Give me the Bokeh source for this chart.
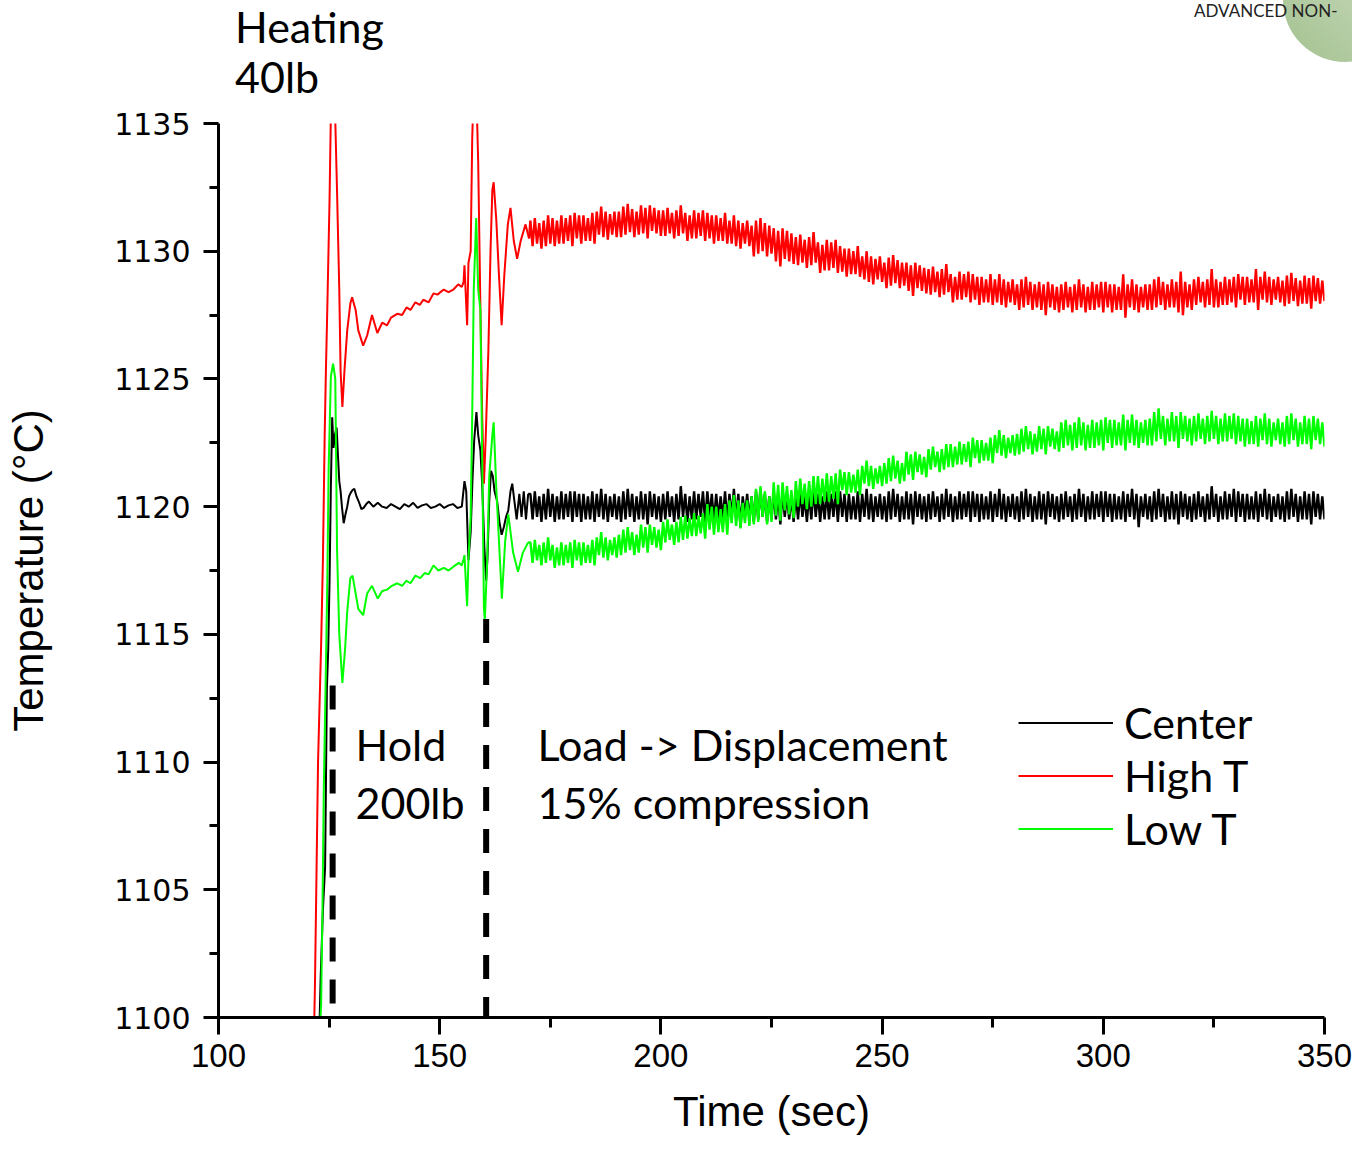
import numpy as np
from bokeh.plotting import figure
from bokeh.layouts import column
from bokeh.models import (Range1d, FixedTicker, Label, Legend, LegendItem,
                          Arrow, Div)
from bokeh.embed import file_html
from bokeh.resources import INLINE

# ---------------- data ----------------
x_ticks = [100, 150, 200, 250, 300, 350]
x_minor = [125, 175, 225, 275, 325]
y_ticks = [1100, 1105, 1110, 1115, 1120, 1125, 1130, 1135]
y_minor = [1102.5, 1107.5, 1112.5, 1117.5, 1122.5, 1127.5, 1132.5]

center_early = [
    (122.8, 1099.5), (123.1, 1101.6), (123.6, 1104.2), (124.1, 1105.9), (124.5, 1112.9),
    (124.8, 1114.4), (125.1, 1117.1), (125.4, 1120.8), (125.7, 1123.5), (126.0, 1122.3),
    (126.3, 1122.8), (126.7, 1123.1), (127.0, 1122.0), (127.3, 1121.0), (127.6, 1120.6),
    (127.9, 1120.0), (128.3, 1119.35), (128.7, 1119.7), (129.1, 1120.0), (129.5, 1120.4),
    (129.9, 1120.55), (130.3, 1120.65), (130.7, 1120.7), (131.2, 1120.4), (131.7, 1120.2),
    (132.3, 1119.9), (132.8, 1119.95), (133.4, 1120.1), (134, 1120.2), (135, 1120.0),
    (136, 1120.15), (137, 1120.0), (138, 1119.95), (139, 1120.1), (140, 1120.0),
    (141, 1119.9), (142, 1120.1), (143, 1120.0), (144, 1120.15), (145, 1119.95),
    (146, 1120.05), (147, 1120.1), (148, 1119.95), (149, 1120.0), (150, 1120.1),
    (151, 1119.95), (152, 1120.05), (153, 1120.1), (154, 1119.95), (155, 1120.0),
    (155.6, 1121.0), (156.0, 1120.6), (156.5, 1117.9), (157.0, 1119.0), (157.4, 1121.0),
    (157.8, 1122.6), (158.3, 1123.7), (158.7, 1122.8), (159.2, 1122.2), (159.6, 1120.9),
    (160.1, 1118.4), (160.5, 1117.1), (160.8, 1118.0), (161.2, 1120.2), (161.6, 1121.4),
    (162.0, 1121.2), (162.4, 1120.6), (163.0, 1120.2), (163.5, 1119.4), (164.0, 1118.9),
    (164.5, 1119.2), (165.0, 1119.6), (165.5, 1119.85), (166.0, 1120.6), (166.4, 1120.9),
    (166.9, 1120.2), (167.4, 1119.5), (168.0, 1120.5), (168.5, 1119.6), (169.0, 1120.6),
    (169.5, 1119.5), (170.0, 1120.5),
]

high_early = [
    (121.6, 1099.5), (121.8, 1101.25), (122.15, 1105.6), (122.5, 1110.0), (123.2, 1114.6),
    (123.6, 1117.9), (124.0, 1122.8), (124.3, 1125.5), (124.6, 1127.8), (125.1, 1132.0),
    (125.5, 1136.5), (126.2, 1136.5), (126.8, 1132.3), (127.3, 1128.5), (127.6, 1125.3),
    (128.0, 1123.9), (128.5, 1125.4), (129.1, 1126.9), (129.8, 1127.95), (130.2, 1128.2),
    (131.0, 1127.7), (131.6, 1126.9), (132.7, 1126.3), (133.6, 1126.7), (134.7, 1127.5),
    (135.9, 1126.8), (137.0, 1127.2), (138.1, 1127.1), (139.0, 1127.4), (140.4, 1127.55),
    (141.5, 1127.5), (142.5, 1127.8), (143.4, 1127.7), (144.5, 1128.0), (145.5, 1127.9),
    (146.3, 1128.1), (147.5, 1128.0), (148.6, 1128.35), (149.5, 1128.3), (150.9, 1128.5),
    (152.0, 1128.4), (153.1, 1128.5), (154.2, 1128.7), (155.0, 1128.6), (155.4, 1128.8),
    (155.6, 1129.45), (156.2, 1127.1), (156.5, 1129.55), (157.0, 1130.0), (157.35, 1134.4),
    (157.7, 1136.5), (158.25, 1136.5), (158.7, 1133.5), (159.2, 1127.8), (159.6, 1123.6),
    (160.0, 1120.9), (160.4, 1122.7), (161.0, 1126.1), (161.5, 1130.1), (161.9, 1132.4),
    (162.2, 1132.7), (162.8, 1131.2), (163.4, 1129.05), (164.0, 1127.1), (164.6, 1129.05),
    (165.4, 1131.05), (166.0, 1131.7), (166.75, 1130.4), (167.5, 1129.7), (168.3, 1130.4),
    (169.4, 1131.05), (170.2, 1130.5),
]

low_early = [
    (122.9, 1099.5), (123.2, 1100.5), (123.5, 1104.2), (123.8, 1108.9), (124.2, 1112.9),
    (124.6, 1117.1), (124.9, 1121.5), (125.4, 1125.1), (125.9, 1125.6), (126.4, 1125.0),
    (126.8, 1118.3), (127.3, 1115.0), (128.0, 1113.1), (128.6, 1114.4), (129.1, 1115.9),
    (129.8, 1117.2), (130.3, 1117.3), (131.0, 1116.6), (131.6, 1116.0), (132.7, 1115.75),
    (133.6, 1116.6), (134.7, 1116.9), (136.0, 1116.4), (137.0, 1116.7), (138.1, 1116.75),
    (139.2, 1116.9), (140.4, 1117.0), (141.5, 1116.9), (142.5, 1117.1), (143.4, 1117.0),
    (144.5, 1117.3), (145.6, 1117.2), (146.6, 1117.4), (147.5, 1117.35), (148.6, 1117.7),
    (149.7, 1117.5), (150.9, 1117.6), (152.0, 1117.5), (153.1, 1117.65), (154.3, 1117.8),
    (155.0, 1117.7), (155.4, 1117.95), (155.6, 1118.1), (156.2, 1116.1), (156.5, 1117.95),
    (157.0, 1119.6), (157.35, 1123.6), (157.7, 1128.5), (158.25, 1131.3), (158.7, 1128.5),
    (159.2, 1127.7), (159.6, 1122.0), (160.0, 1116.0), (160.2, 1115.55), (160.75, 1117.95),
    (161.2, 1121.2), (161.9, 1122.8), (162.2, 1123.3), (162.8, 1120.7), (163.4, 1118.65),
    (164.05, 1116.4), (164.8, 1118.65), (165.5, 1119.7), (166.6, 1118.2), (167.7, 1117.45),
    (168.8, 1118.2), (170.0, 1118.6),
]

# two samples per second from 170.5 s to 350 s (360 samples, 20 per row = 10 s)
t_late = np.arange(170.5, 350.01, 0.5).tolist()

center_late = [
    1120.5, 1119.5, 1120.6, 1119.6, 1120.4, 1119.4, 1120.5, 1119.5, 1120.7, 1119.6, 1120.5, 1119.4, 1120.4, 1119.5, 1120.6, 1119.5, 1120.5, 1119.6, 1120.6, 1119.4,
    1120.6, 1119.6, 1120.5, 1119.4, 1120.5, 1119.5, 1120.4, 1119.5, 1120.6, 1119.4, 1120.5, 1119.6, 1120.7, 1119.5, 1120.5, 1119.4, 1120.4, 1119.6, 1120.5, 1119.5,
    1120.4, 1119.4, 1120.6, 1119.5, 1120.7, 1119.6, 1120.5, 1119.4, 1120.4, 1119.5, 1120.6, 1119.5, 1120.5, 1119.3, 1120.6, 1119.6, 1120.5, 1119.5, 1120.4, 1119.4,
    1120.5, 1119.5, 1120.6, 1119.6, 1120.4, 1119.4, 1120.5, 1119.5, 1120.8, 1119.6, 1120.5, 1119.4, 1120.4, 1119.5, 1120.6, 1119.5, 1120.5, 1119.6, 1120.6, 1119.4,
    1120.6, 1119.6, 1120.5, 1119.4, 1120.5, 1119.5, 1120.4, 1119.5, 1120.6, 1119.4, 1120.5, 1119.6, 1120.7, 1119.5, 1120.5, 1119.2, 1120.4, 1119.6, 1120.5, 1119.5,
    1120.4, 1119.4, 1120.6, 1119.5, 1120.7, 1119.6, 1120.5, 1119.4, 1120.4, 1119.5, 1120.6, 1119.5, 1120.5, 1119.3, 1120.6, 1119.6, 1120.5, 1119.5, 1120.4, 1119.4,
    1120.5, 1119.5, 1120.6, 1119.6, 1120.4, 1119.4, 1120.5, 1119.5, 1120.7, 1119.6, 1120.5, 1119.4, 1120.4, 1119.5, 1120.6, 1119.5, 1120.5, 1119.6, 1120.6, 1119.4,
    1120.6, 1119.6, 1120.5, 1119.4, 1120.5, 1119.5, 1120.4, 1119.5, 1120.6, 1119.4, 1120.5, 1119.6, 1120.7, 1119.5, 1120.5, 1119.4, 1120.4, 1119.6, 1120.5, 1119.5,
    1120.4, 1119.4, 1120.6, 1119.5, 1120.7, 1119.6, 1120.5, 1119.4, 1120.4, 1119.5, 1120.6, 1119.5, 1120.5, 1119.3, 1120.6, 1119.6, 1120.5, 1119.5, 1120.4, 1119.4,
    1120.5, 1119.5, 1120.6, 1119.6, 1120.4, 1119.4, 1120.5, 1119.5, 1120.7, 1119.6, 1120.5, 1119.4, 1120.4, 1119.5, 1120.6, 1119.5, 1120.5, 1119.6, 1120.6, 1119.4,
    1120.6, 1119.6, 1120.5, 1119.4, 1120.5, 1119.5, 1120.4, 1119.5, 1120.6, 1119.4, 1120.5, 1119.6, 1120.7, 1119.5, 1120.5, 1119.4, 1120.4, 1119.6, 1120.5, 1119.5,
    1120.4, 1119.4, 1120.6, 1119.5, 1120.7, 1119.6, 1120.5, 1119.4, 1120.4, 1119.5, 1120.6, 1119.5, 1120.5, 1119.3, 1120.6, 1119.6, 1120.5, 1119.5, 1120.4, 1119.4,
    1120.5, 1119.5, 1120.6, 1119.6, 1120.4, 1119.4, 1120.5, 1119.5, 1120.7, 1119.6, 1120.5, 1119.4, 1120.4, 1119.5, 1120.6, 1119.5, 1120.5, 1119.6, 1120.6, 1119.4,
    1120.6, 1119.6, 1120.5, 1119.4, 1120.5, 1119.5, 1120.4, 1119.5, 1120.6, 1119.4, 1120.5, 1119.6, 1120.7, 1119.5, 1120.5, 1119.2, 1120.4, 1119.6, 1120.5, 1119.5,
    1120.4, 1119.4, 1120.6, 1119.5, 1120.7, 1119.6, 1120.5, 1119.4, 1120.4, 1119.5, 1120.6, 1119.5, 1120.5, 1119.3, 1120.6, 1119.6, 1120.5, 1119.5, 1120.4, 1119.4,
    1120.5, 1119.5, 1120.6, 1119.6, 1120.4, 1119.4, 1120.5, 1119.5, 1120.8, 1119.6, 1120.5, 1119.4, 1120.4, 1119.5, 1120.6, 1119.5, 1120.5, 1119.6, 1120.7, 1119.4,
    1120.6, 1119.6, 1120.5, 1119.4, 1120.5, 1119.5, 1120.4, 1119.5, 1120.6, 1119.4, 1120.5, 1119.6, 1120.7, 1119.5, 1120.5, 1119.4, 1120.4, 1119.6, 1120.5, 1119.5,
    1120.4, 1119.4, 1120.6, 1119.5, 1120.7, 1119.6, 1120.5, 1119.4, 1120.4, 1119.5, 1120.6, 1119.5, 1120.5, 1119.3, 1120.6, 1119.6, 1120.5, 1119.5, 1120.4, 1119.5,
]

high_late = [
    1131.2, 1130.2, 1131.3, 1130.3, 1131.1, 1130.1, 1131.2, 1130.2, 1131.4, 1130.3, 1131.3, 1130.2, 1131.2, 1130.3, 1131.4, 1130.3, 1131.3, 1130.4, 1131.4, 1130.2,
    1131.5, 1130.5, 1131.4, 1130.3, 1131.4, 1130.4, 1131.3, 1130.4, 1131.5, 1130.3, 1131.55, 1130.65, 1131.75, 1130.55, 1131.55, 1130.45, 1131.45, 1130.65, 1131.55, 1130.55,
    1131.55, 1130.55, 1131.75, 1130.65, 1131.85, 1130.75, 1131.65, 1130.55, 1131.55, 1130.65, 1131.8, 1130.7, 1131.7, 1130.5, 1131.8, 1130.8, 1131.7, 1130.7, 1131.6, 1130.6,
    1131.6, 1130.6, 1131.7, 1130.7, 1131.5, 1130.5, 1131.6, 1130.6, 1131.8, 1130.7, 1131.5, 1130.4, 1131.4, 1130.5, 1131.6, 1130.5, 1131.5, 1130.6, 1131.6, 1130.4,
    1131.5, 1130.5, 1131.4, 1130.3, 1131.4, 1130.4, 1131.3, 1130.4, 1131.5, 1130.3, 1131.2, 1130.3, 1131.4, 1130.2, 1131.2, 1130.1, 1131.1, 1130.3, 1131.2, 1130.2,
    1131.0, 1129.8, 1131.2, 1129.9, 1131.3, 1130.0, 1131.1, 1129.8, 1131.0, 1129.9, 1130.9, 1129.6, 1130.8, 1129.4, 1130.9, 1129.7, 1130.8, 1129.6, 1130.7, 1129.5,
    1130.55, 1129.45, 1130.65, 1129.55, 1130.45, 1129.35, 1130.55, 1129.45, 1130.75, 1129.55, 1130.35, 1129.15, 1130.25, 1129.25, 1130.45, 1129.25, 1130.35, 1129.35, 1130.45, 1129.15,
    1130.2, 1129.2, 1130.1, 1129.0, 1130.1, 1129.1, 1130.0, 1129.1, 1130.2, 1129.0, 1129.8, 1128.9, 1130.0, 1128.8, 1129.8, 1128.7, 1129.7, 1128.9, 1129.8, 1128.8,
    1129.55, 1128.55, 1129.75, 1128.65, 1129.85, 1128.75, 1129.65, 1128.55, 1129.55, 1128.65, 1129.55, 1128.45, 1129.45, 1128.25, 1129.55, 1128.55, 1129.45, 1128.45, 1129.35, 1128.35,
    1129.3, 1128.3, 1129.4, 1128.4, 1129.2, 1128.2, 1129.3, 1128.3, 1129.5, 1128.4, 1129.1, 1128.0, 1129.0, 1128.1, 1129.2, 1128.1, 1129.1, 1128.2, 1129.2, 1128.0,
    1129.1, 1128.1, 1129.0, 1127.9, 1129.0, 1128.0, 1128.9, 1128.0, 1129.1, 1127.9, 1128.9, 1128.0, 1129.1, 1127.9, 1128.9, 1127.8, 1128.8, 1128.0, 1128.9, 1127.9,
    1128.7, 1127.7, 1128.9, 1127.8, 1129.0, 1127.9, 1128.8, 1127.7, 1128.7, 1127.8, 1128.8, 1127.7, 1128.7, 1127.5, 1128.8, 1127.8, 1128.7, 1127.7, 1128.6, 1127.6,
    1128.7, 1127.7, 1128.8, 1127.8, 1128.6, 1127.6, 1128.7, 1127.7, 1128.9, 1127.8, 1128.7, 1127.6, 1128.6, 1127.7, 1128.8, 1127.7, 1128.7, 1127.8, 1128.8, 1127.6,
    1128.8, 1127.8, 1128.7, 1127.6, 1128.7, 1127.7, 1128.6, 1127.7, 1129.1, 1127.4, 1128.7, 1127.8, 1128.9, 1127.7, 1128.7, 1127.6, 1128.6, 1127.8, 1128.7, 1127.7,
    1128.7, 1127.7, 1128.9, 1127.8, 1129.0, 1127.9, 1128.8, 1127.7, 1128.7, 1127.8, 1128.9, 1127.8, 1128.8, 1127.6, 1129.2, 1127.5, 1128.8, 1127.8, 1128.7, 1127.7,
    1128.9, 1127.9, 1129.0, 1128.0, 1128.8, 1127.8, 1128.9, 1127.9, 1129.3, 1127.8, 1128.9, 1127.8, 1128.8, 1127.9, 1129.0, 1127.9, 1128.9, 1128.0, 1129.0, 1127.8,
    1129.1, 1128.1, 1129.0, 1127.9, 1129.0, 1128.0, 1128.9, 1128.0, 1129.3, 1127.7, 1129.0, 1128.1, 1129.2, 1128.0, 1129.0, 1127.9, 1128.9, 1128.1, 1129.0, 1128.0,
    1128.85, 1127.85, 1129.05, 1127.95, 1129.15, 1128.05, 1128.95, 1127.85, 1128.85, 1127.95, 1129.05, 1127.95, 1128.95, 1127.75, 1129.05, 1128.05, 1128.95, 1127.95, 1128.85, 1128.05,
]

low_late = [
    1118.6, 1117.8, 1118.7, 1117.9, 1118.5, 1117.7, 1118.6, 1117.8, 1118.8, 1117.9, 1118.5, 1117.6, 1118.4, 1117.7, 1118.6, 1117.7, 1118.5, 1117.8, 1118.6, 1117.6,
    1118.7, 1117.9, 1118.6, 1117.7, 1118.6, 1117.8, 1118.5, 1117.8, 1118.7, 1117.7, 1118.8, 1118.1, 1119.0, 1118.0, 1118.8, 1117.9, 1118.7, 1118.1, 1118.8, 1118.0,
    1118.9, 1118.1, 1119.1, 1118.2, 1119.2, 1118.3, 1119.0, 1118.1, 1118.9, 1118.2, 1119.3, 1118.4, 1119.2, 1118.2, 1119.3, 1118.5, 1119.2, 1118.4, 1119.1, 1118.3,
    1119.4, 1118.6, 1119.5, 1118.7, 1119.3, 1118.5, 1119.4, 1118.6, 1119.6, 1118.7, 1119.65, 1118.75, 1119.55, 1118.85, 1119.75, 1118.85, 1119.65, 1118.95, 1119.75, 1118.75,
    1120.1, 1119.1, 1120.0, 1118.9, 1120.0, 1119.0, 1119.9, 1119.0, 1120.1, 1118.9, 1120.25, 1119.35, 1120.45, 1119.25, 1120.25, 1119.15, 1120.15, 1119.35, 1120.25, 1119.25,
    1120.4, 1119.3, 1120.7, 1119.4, 1120.8, 1119.6, 1120.6, 1119.3, 1120.4, 1119.4, 1120.95, 1119.65, 1120.85, 1119.45, 1120.95, 1119.85, 1120.8, 1119.7, 1120.65, 1119.55,
    1121.0, 1120.0, 1121.1, 1120.1, 1120.9, 1119.9, 1121.0, 1120.0, 1121.2, 1120.1, 1121.2, 1120.1, 1121.1, 1120.2, 1121.3, 1120.2, 1121.2, 1120.3, 1121.3, 1120.1,
    1121.45, 1120.65, 1121.35, 1120.45, 1121.35, 1120.55, 1121.25, 1120.55, 1121.45, 1120.45, 1121.6, 1120.9, 1121.8, 1120.8, 1121.6, 1120.7, 1121.5, 1120.9, 1121.6, 1120.8,
    1121.7, 1120.9, 1121.9, 1121.0, 1122.0, 1121.1, 1121.8, 1120.9, 1121.7, 1121.0, 1122.15, 1121.25, 1122.05, 1121.05, 1122.15, 1121.35, 1122.05, 1121.25, 1121.95, 1121.15,
    1122.25, 1121.45, 1122.35, 1121.55, 1122.15, 1121.35, 1122.25, 1121.45, 1122.45, 1121.55, 1122.45, 1121.55, 1122.35, 1121.65, 1122.55, 1121.65, 1122.45, 1121.75, 1122.55, 1121.55,
    1122.7, 1121.9, 1122.6, 1121.7, 1122.6, 1121.8, 1122.5, 1121.8, 1122.7, 1121.7, 1122.8, 1122.1, 1123.0, 1122.0, 1122.8, 1121.9, 1122.7, 1122.1, 1122.8, 1122.0,
    1122.85, 1122.05, 1123.05, 1122.15, 1123.15, 1122.25, 1122.95, 1122.05, 1122.85, 1122.15, 1123.15, 1122.25, 1123.05, 1122.05, 1123.15, 1122.35, 1123.05, 1122.25, 1122.95, 1122.15,
    1123.3, 1122.3, 1123.4, 1122.4, 1123.2, 1122.2, 1123.3, 1122.3, 1123.5, 1122.4, 1123.3, 1122.2, 1123.2, 1122.3, 1123.4, 1122.3, 1123.3, 1122.4, 1123.4, 1122.2,
    1123.5, 1122.5, 1123.4, 1122.3, 1123.4, 1122.4, 1123.3, 1122.4, 1123.6, 1122.2, 1123.4, 1122.5, 1123.6, 1122.4, 1123.4, 1122.3, 1123.3, 1122.5, 1123.4, 1122.4,
    1123.45, 1122.4, 1123.7, 1122.55, 1123.85, 1122.65, 1123.55, 1122.4, 1123.45, 1122.55, 1123.7, 1122.55, 1123.55, 1122.3, 1123.7, 1122.65, 1123.55, 1122.55, 1123.45, 1122.4,
    1123.55, 1122.55, 1123.65, 1122.65, 1123.45, 1122.45, 1123.55, 1122.55, 1123.75, 1122.65, 1123.55, 1122.45, 1123.45, 1122.55, 1123.65, 1122.55, 1123.55, 1122.65, 1123.65, 1122.45,
    1123.55, 1122.55, 1123.45, 1122.35, 1123.45, 1122.45, 1123.35, 1122.45, 1123.55, 1122.35, 1123.45, 1122.6, 1123.65, 1122.45, 1123.45, 1122.35, 1123.3, 1122.6, 1123.45, 1122.45,
    1123.3, 1122.35, 1123.55, 1122.45, 1123.65, 1122.6, 1123.45, 1122.35, 1123.3, 1122.45, 1123.55, 1122.45, 1123.45, 1122.25, 1123.55, 1122.6, 1123.45, 1122.45, 1123.3, 1122.35,
]

# phase boundaries (dashed lines): time, top of the dashed line
phase_times = [125.8, 160.5]
phase_tops = [1113.0, 1115.6]


def split(early, late):
    te, ve = zip(*early)
    n = min(len(t_late), len(late))
    # the late (dense, noisy) part starts at the last early sample so the trace is continuous
    return list(te), list(ve), [te[-1]] + t_late[:n], [ve[-1]] + late[:n]


c_te, c_ve, c_tl, c_vl = split(center_early, center_late)
h_te, h_ve, h_tl, h_vl = split(high_early, high_late)
l_te, l_ve, l_tl, l_vl = split(low_early, low_late)

HEADER_H = 103   # html strip above the chart (phase label, slide decoration)

# ---------------- figure ----------------
p = figure(width=1352, height=1147 - HEADER_H,
           x_range=Range1d(100, 350), y_range=Range1d(1100, 1135),
           output_backend="svg", toolbar_location=None,
           min_border_left=218, min_border_right=28,
           min_border_top=20, min_border_bottom=130,
           outline_line_color=None, background_fill_color="white",
           border_fill_color="white")
p.xgrid.visible = False
p.ygrid.visible = False

p.xaxis.ticker = FixedTicker(ticks=x_ticks, minor_ticks=x_minor)
p.yaxis.ticker = FixedTicker(ticks=y_ticks, minor_ticks=y_minor)

for ax in (p.xaxis[0], p.yaxis[0]):
    ax.axis_line_width = 3
    ax.axis_line_color = "black"
    ax.major_tick_line_width = 3
    ax.minor_tick_line_width = 3
    ax.major_tick_line_color = "black"
    ax.minor_tick_line_color = "black"
    ax.major_tick_in = 0
    ax.minor_tick_in = 0
    ax.major_label_text_color = "black"
    ax.axis_label_text_font = "Liberation Sans"
    ax.axis_label_text_font_size = "42px"
    ax.axis_label_text_font_style = "normal"
    ax.axis_label_text_color = "black"

p.xaxis.major_tick_out = 17
p.xaxis.minor_tick_out = 10
p.xaxis.major_label_text_font = "Liberation Sans"
p.xaxis.major_label_text_font_size = "33px"
p.xaxis.major_label_standoff = 9
p.xaxis.axis_label = "Time (sec)"
p.xaxis.axis_label_standoff = 18

p.yaxis.major_tick_out = 15
p.yaxis.minor_tick_out = 9
p.yaxis.major_label_text_font = "DejaVu Sans"
p.yaxis.major_label_text_font_size = "30px"
p.yaxis.major_label_standoff = 13
p.yaxis.axis_label = "Temperature (°C)"
p.yaxis.axis_label_standoff = 59

r_c = p.line(c_te, c_ve, line_color="black", line_width=2)
p.line(c_tl, c_vl, line_color="black", line_width=2.4)
r_h = p.line(h_te, h_ve, line_color="#ff0000", line_width=2)
p.line(h_tl, h_vl, line_color="#ff0000", line_width=2.4)
r_l = p.line(l_te, l_ve, line_color="#00ff00", line_width=2)
p.line(l_tl, l_vl, line_color="#00ff00", line_width=2.4)

# dashed phase markers
for tx, ty in zip(phase_times, phase_tops):
    p.add_layout(Arrow(end=None, x_start=tx, y_start=ty, x_end=tx, y_end=1099.3,
                       line_color="black", line_width=6, line_dash="24 18"))

# legend
legend = Legend(items=[LegendItem(label="Center", renderers=[r_c]),
                       LegendItem(label="High T", renderers=[r_h]),
                       LegendItem(label="Low T", renderers=[r_l])],
                location=(800, 162), glyph_width=95, glyph_height=53,
                label_height=53, label_standoff=11, spacing=0, padding=0, margin=0,
                label_text_font="Lato", label_text_font_size="43px",
                label_text_color="black", background_fill_alpha=0,
                border_line_color=None)
p.add_layout(legend)

# phase annotations inside the frame
texts = [("Hold", 130.97, 1110.68), ("200lb", 130.97, 1108.42),
         ("Load -> Displacement", 172.1, 1110.68), ("15% compression", 172.1, 1108.42)]
for txt, tx, ty in texts:
    p.add_layout(Label(x=tx, y=ty, text=txt, text_font="Lato", text_font_size="43px",
                       text_color="black", text_baseline="alphabetic", text_align="left"))

# header strip: first phase label above the frame + slide decoration in the corner
span = ("position:absolute;left:{l}px;top:{t}px;font-family:Lato;font-size:{s}px;"
        "line-height:{s}px;color:{c};white-space:nowrap;")
header_html = (
    '<div style="position:relative;width:1352px;height:%dpx;overflow:hidden;">' % HEADER_H
    + '<div style="position:absolute;left:1283px;top:-62px;width:124px;height:124px;'
      'border-radius:50%;background:linear-gradient(45deg,#a3c18f,#d0dfc6);"></div>'
    + '<span style="' + span.format(l=1194, t=2, s=17, c="#222") + '">ADVANCED NON-</span>'
    + '<span style="' + span.format(l=235, t=5, s=43, c="#000") + '">Heating</span>'
    + '<span style="' + span.format(l=235, t=55, s=43, c="#000") + '">40lb</span>'
    + '</div>'
)
header = Div(text=header_html, width=1352, height=HEADER_H, margin=0,
             styles={"overflow": "hidden"})

layout = column(header, p, spacing=0)

open("out.html", "w").write(file_html(layout, INLINE))
